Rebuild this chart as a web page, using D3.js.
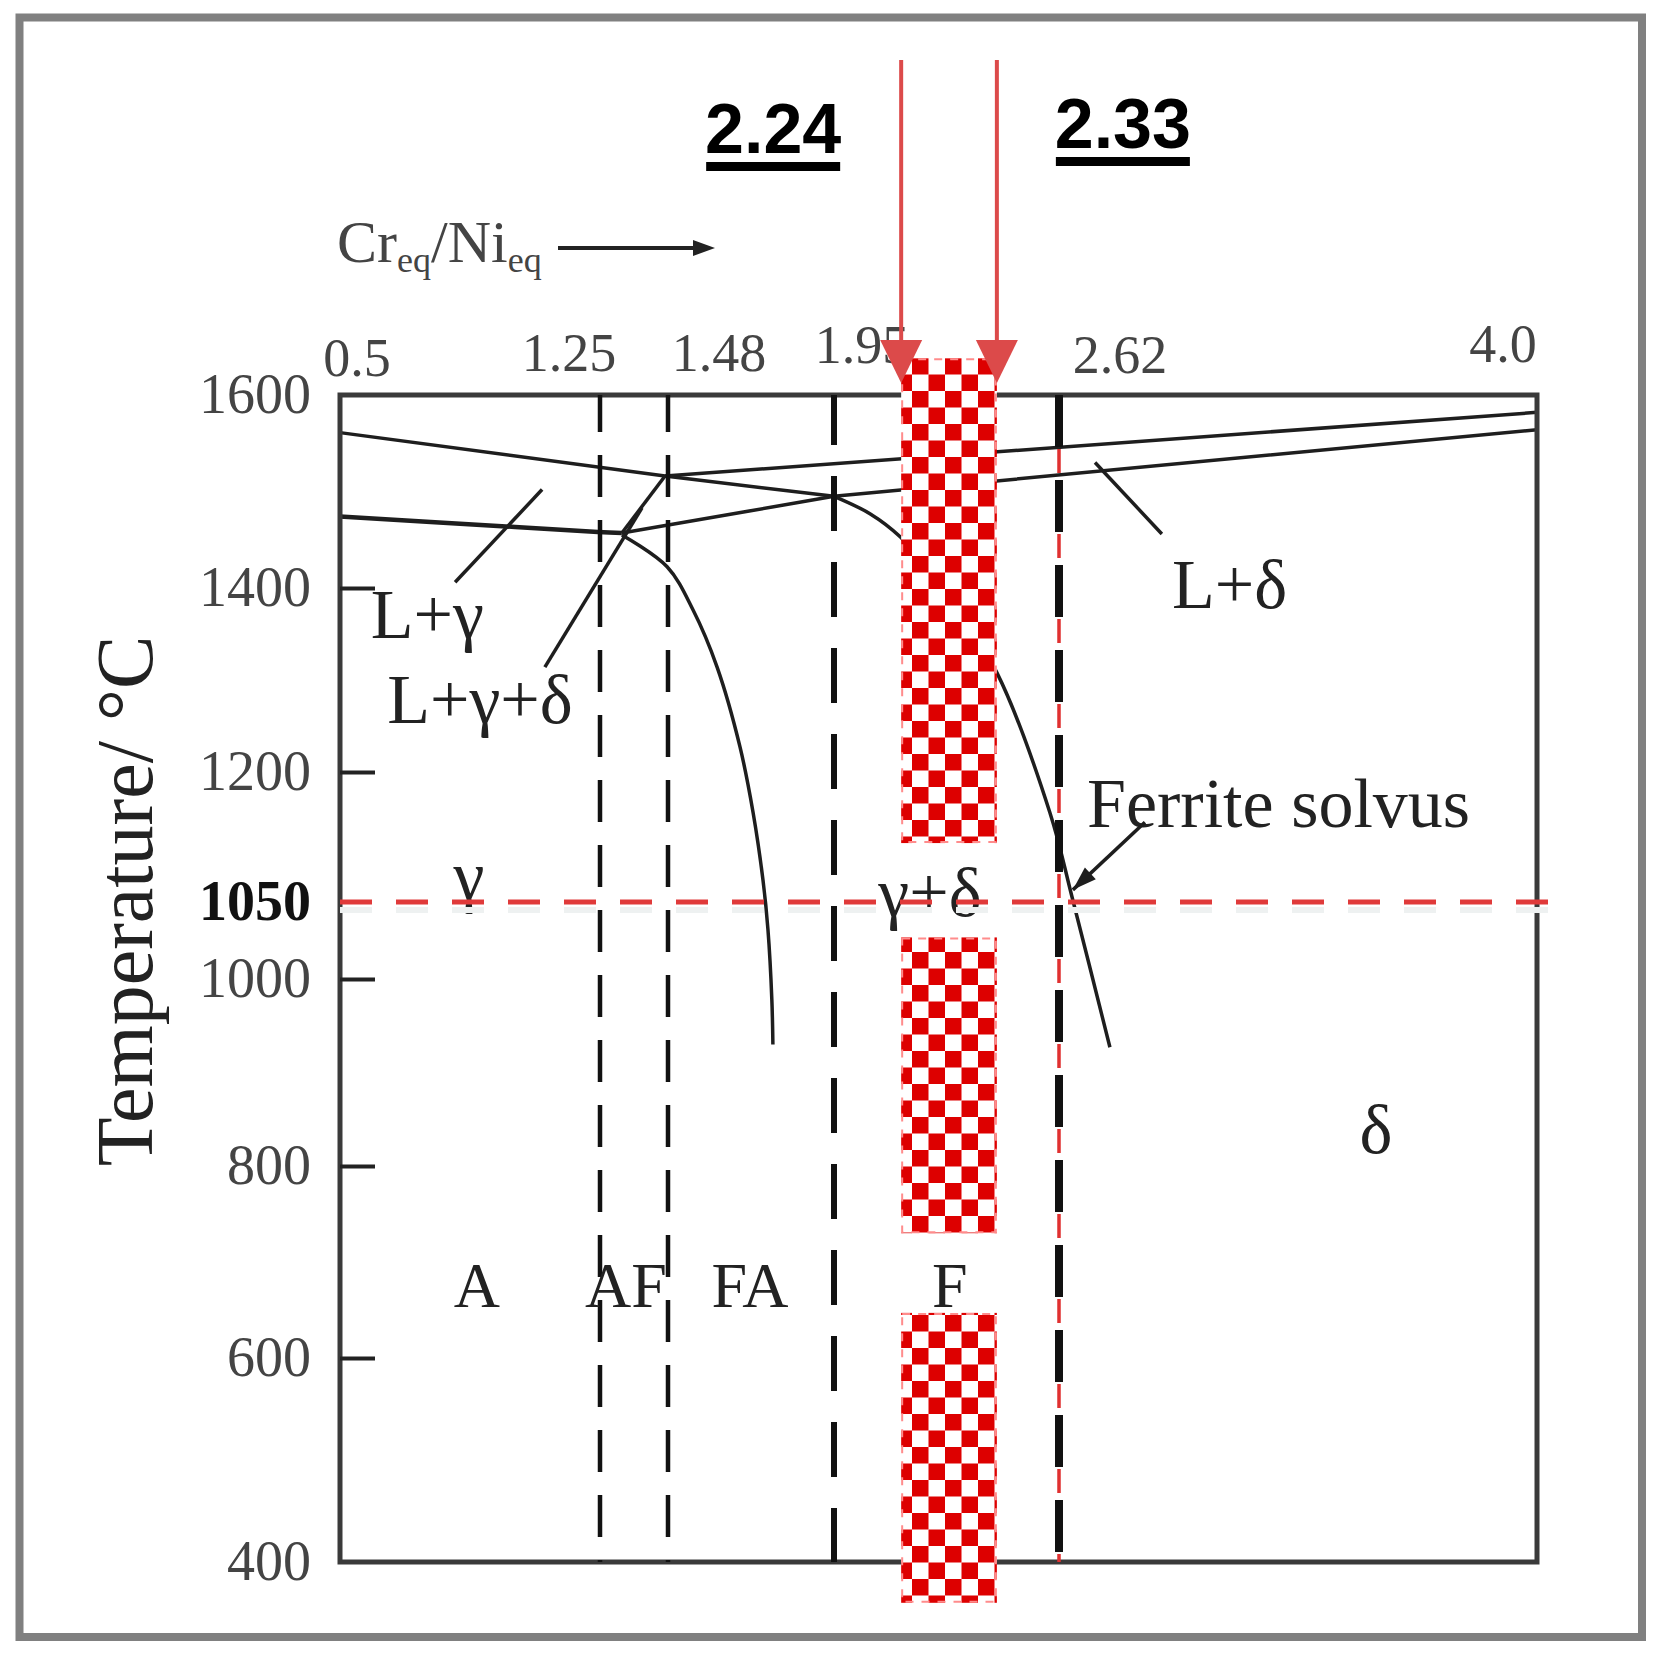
<!DOCTYPE html>
<html><head><meta charset="utf-8">
<script src="https://cdn.jsdelivr.net/npm/d3@7"></script>
<style>
html,body{margin:0;padding:0;background:#fff;}
svg{display:block;}
</style></head>
<body>
<svg id="chart" width="1662" height="1655"></svg>
<script>
// ------------------------- data -------------------------
const xTickValues = [0.5, 1.25, 1.48, 1.95, 2.62, 4.0];
const xTickLabels = ["0.5", "1.25", "1.48", "1.95", "2.62", "4.0"];
const modeBoundaries = [1.25, 1.48, 1.95, 2.62];
const yTickValues = [1600, 1400, 1200, 1050, 1000, 800, 600, 400];
const yTickLabels = ["1600", "1400", "1200", "1050", "1000", "800", "600", "400"];
const isothermT = 1050;

// phase boundaries: [Creq/Nieq, temperature °C]
const gammaLiquidus = [[0.5, 1561], [1.47, 1516], [1.95, 1495]];
const deltaLiquidus = [[1.47, 1516], [4.0, 1582]];
const gammaSolidus = [[0.5, 1474], [0.967, 1464], [1.244, 1458], [1.324, 1457]];
const threePhaseEdge = [[1.324, 1457], [1.47, 1516]];
const deltaSolidus = [[1.324, 1457], [1.95, 1495], [4.0, 1564]];
const gammaSolvus = [[1.324, 1455], [1.477, 1422], [1.551, 1376], [1.619, 1314], [1.684, 1227],
                     [1.721, 1153], [1.749, 1075], [1.763, 1032], [1.774, 978], [1.777, 930]];
const ferriteSolvus = [[1.95, 1495], [2.057, 1477], [2.147, 1453], [2.295, 1390], [2.435, 1308],
                       [2.593, 1153], [2.660, 1052], [2.767, 927]];

// leader lines [from, to]
const leaderLines = [
  [[0.832, 1406], [1.083, 1502]],   // L+γ
  [[1.091, 1314], [1.392, 1483]],   // L+γ+δ
  [[2.724, 1530], [2.917, 1456]]    // L+δ
];
const solvusPointer = [[2.868, 1142], [2.660, 1064]];

// region labels
const labelTexts = ["L+γ", "L+γ+δ", "L+δ", "Ferrite solvus", "γ", "γ+δ", "δ", "A", "AF", "FA", "F"];
const labelX = [0.589, 0.636, 2.946, 2.701, 0.872, 2.236, 3.535, 0.895, 1.338, 1.712, 2.295];
const labelT = [1346, 1253, 1378, 1137, 1054, 1041, 814, 653, 653, 653, 653];
const labelAnchor = ["start", "start", "start", "start", "middle", "middle", "middle", "middle", "middle", "middle", "middle"];

// highlighted ratio band and its segments (temperature spans)
const ratioBand = [2.15, 2.435];
const bandSpans = [[1638, 1118], [1027, 730], [647, 360]];
const bandLabels = ["2.24", "2.33"];

// ------------------------- layout -------------------------
const serif = "'Liberation Serif','Times New Roman',serif";
const svg = d3.select("#chart");

const x = d3.scaleLinear().domain(xTickValues).range([340, 600, 668, 834, 1059, 1537]);
const y = d3.scaleLinear().domain([400, 600, 800, 1000, 1050, 1200, 1400, 1600])
                          .range([1562, 1358, 1166, 979, 902, 772, 588, 395]);
const X0 = x(0.5), X1 = x(4.0), Y0 = y(1600), Y1 = y(400);

// checker pattern
const defs = svg.append("defs");
const pat = defs.append("pattern").attr("id", "checker")
  .attr("patternUnits", "userSpaceOnUse").attr("width", 33).attr("height", 33)
  .attr("patternTransform", "translate(912,358)");
pat.append("rect").attr("width", 33).attr("height", 33).attr("fill", "#ffffff");
pat.append("rect").attr("x", 0).attr("y", 0).attr("width", 16.5).attr("height", 16.5).attr("fill", "#dd0000");
pat.append("rect").attr("x", 16.5).attr("y", 16.5).attr("width", 16.5).attr("height", 16.5).attr("fill", "#dd0000");

// outer frame
svg.append("rect").attr("x", 19.5).attr("y", 17.5).attr("width", 1622.5).attr("height", 1619.5)
  .attr("fill", "none").attr("stroke", "#808080").attr("stroke-width", 8);

// phase boundary curves
const straight = d3.line().x(d => x(d[0])).y(d => y(d[1]));
const smooth = d3.line().x(d => x(d[0])).y(d => y(d[1])).curve(d3.curveCatmullRom.alpha(0.5));
const curves = [
  [gammaLiquidus, straight, 3.5], [deltaLiquidus, straight, 3.5],
  [gammaSolidus, smooth, 4.5], [threePhaseEdge, straight, 3.5],
  [deltaSolidus, straight, 3.5], [gammaSolvus, smooth, 3.5], [ferriteSolvus, smooth, 3.5]
];
const gCurves = svg.append("g").attr("fill", "none").attr("stroke", "#1e1e1e").attr("stroke-linejoin", "round");
curves.forEach(c => gCurves.append("path").attr("d", c[1](c[0])).attr("stroke-width", c[2]));

// leader lines
leaderLines.forEach(l => gCurves.append("path").attr("d", straight(l)).attr("stroke-width", 3.5));

// plot box
svg.append("rect").attr("x", X0).attr("y", Y0).attr("width", X1 - X0).attr("height", Y1 - Y0)
  .attr("fill", "none").attr("stroke", "#3a3a3a").attr("stroke-width", 5);

// y axis
const yAxis = d3.axisLeft(y).tickValues(yTickValues).tickFormat((d, i) => yTickLabels[i])
  .tickSizeInner(-35).tickSizeOuter(0).tickPadding(29);
const gy = svg.append("g").attr("transform", `translate(${X0},0)`).call(yAxis);
gy.select(".domain").remove();
gy.selectAll(".tick line").attr("stroke", "#222").attr("stroke-width", 4)
  .attr("display", d => (d === 1600 || d === 400 || d === isothermT) ? "none" : null);
gy.selectAll(".tick text").attr("font-family", serif).attr("font-size", 56)
  .attr("fill", d => d === isothermT ? "#111" : "#444")
  .attr("font-weight", d => d === isothermT ? "bold" : "normal");

// solidification mode boundaries
const boundaryStyle = [
  {w: 4.5, dash: "42 23", off: 5}, {w: 4.5, dash: "42 23", off: 5},
  {w: 6, dash: "55 31", off: 5}, {w: 8, dash: "52 33", off: 0}
];
modeBoundaries.forEach((v, i) => {
  const s = boundaryStyle[i];
  if (i === 3) {
    svg.append("line").attr("x1", x(v)).attr("x2", x(v)).attr("y1", Y0).attr("y2", Y1)
      .attr("stroke", "#e03030").attr("stroke-width", 3.5)
      .attr("stroke-dasharray", "24 9 0 52").attr("stroke-dashoffset", -54);
  }
  svg.append("line").attr("x1", x(v)).attr("x2", x(v)).attr("y1", Y0).attr("y2", Y1)
    .attr("stroke", "#111").attr("stroke-width", s.w)
    .attr("stroke-dasharray", s.dash).attr("stroke-dashoffset", s.off);
});

// region labels
svg.append("g").selectAll("text").data(labelTexts).join("text")
  .attr("x", (d, i) => x(labelX[i])).attr("y", (d, i) => y(labelT[i]))
  .attr("text-anchor", (d, i) => labelAnchor[i])
  .attr("font-family", serif).attr("font-size", (d, i) => i >= 7 ? 64 : 70)
  .attr("fill", "#222").text(d => d);

// ferrite solvus pointer
const p0 = [x(solvusPointer[0][0]), y(solvusPointer[0][1])];
const p1 = [x(solvusPointer[1][0]), y(solvusPointer[1][1])];
svg.append("line").attr("x1", p0[0]).attr("y1", p0[1]).attr("x2", p1[0]).attr("y2", p1[1])
  .attr("stroke", "#1e1e1e").attr("stroke-width", 3.5);
{
  const ang = Math.atan2(p1[1] - p0[1], p1[0] - p0[0]);
  const L = 24, W = 8;
  const bx = p1[0] - L * Math.cos(ang), by = p1[1] - L * Math.sin(ang);
  const nx = -Math.sin(ang), ny = Math.cos(ang);
  svg.append("polygon").attr("fill", "#1e1e1e")
    .attr("points", `${p1[0]},${p1[1]} ${bx + W * nx},${by + W * ny} ${bx - W * nx},${by - W * ny}`);
}

// checkered band
const bx0 = x(ratioBand[0]), bx1 = x(ratioBand[1]);
const gBand = svg.append("g");
gBand.selectAll("rect.cell").data(bandSpans).join("rect").attr("class", "cell")
  .attr("x", bx0).attr("width", bx1 - bx0)
  .attr("y", d => y(d[0])).attr("height", d => y(d[1]) - y(d[0]))
  .attr("fill", "url(#checker)");
gBand.selectAll("rect.edge").data(bandSpans).join("rect").attr("class", "edge")
  .attr("x", bx0 + 1).attr("width", bx1 - bx0 - 2)
  .attr("y", d => y(d[0]) + 1).attr("height", d => y(d[1]) - y(d[0]) - 2)
  .attr("fill", "none").attr("stroke", "#ff8c8c").attr("stroke-width", 2).attr("stroke-dasharray", "8 8");

// 1050 °C isotherm
svg.append("line").attr("x1", X0).attr("x2", X1 + 12).attr("y1", y(isothermT) + 8).attr("y2", y(isothermT) + 8)
  .attr("stroke", "#eef1f1").attr("stroke-width", 6).attr("stroke-dasharray", "32 24");
svg.append("line").attr("x1", X0).attr("x2", X1 + 12).attr("y1", y(isothermT)).attr("y2", y(isothermT))
  .attr("stroke", "#e03a3a").attr("stroke-width", 5).attr("stroke-dasharray", "32 24");

// top x tick labels (freely placed in the original)
const xLabelNudge = [[17, -19], [-31, -24], [51, -24], [28, -32], [61, -22], [-34, -33]];
svg.append("g").selectAll("text").data(xTickLabels).join("text")
  .attr("x", (d, i) => x(xTickValues[i]) + xLabelNudge[i][0])
  .attr("y", (d, i) => Y0 + xLabelNudge[i][1])
  .attr("text-anchor", "middle").attr("font-family", serif).attr("font-size", 54)
  .attr("fill", "#444").text(d => d);

// Creq/Nieq label
const ct = svg.append("text").attr("x", 337).attr("y", 262).attr("font-family", serif)
  .attr("font-size", 60).attr("fill", "#444");
ct.append("tspan").text("Cr");
ct.append("tspan").attr("font-size", 36).attr("dy", 10).text("eq");
ct.append("tspan").attr("dy", -10).text("/Ni");
ct.append("tspan").attr("font-size", 36).attr("dy", 10).text("eq");
svg.append("line").attr("x1", 558).attr("x2", 700).attr("y1", 248).attr("y2", 248)
  .attr("stroke", "#222").attr("stroke-width", 4);
svg.append("polygon").attr("points", "693,240 715,248 693,256").attr("fill", "#222");

// y title
svg.append("text").attr("transform", "translate(152,901) rotate(-90)")
  .attr("text-anchor", "middle").attr("font-family", serif).attr("font-size", 80)
  .attr("fill", "#222").text("Temperature/ °C");

// red arrows pointing to band edges
const arrowColor = "#dc4a4a";
ratioBand.forEach((v, i) => {
  const ax = x(v);
  svg.append("line").attr("x1", ax).attr("x2", ax).attr("y1", 60).attr("y2", Y0 - 50)
    .attr("stroke", arrowColor).attr("stroke-width", 4);
  svg.append("polygon").attr("fill", arrowColor)
    .attr("points", `${ax - 21},${Y0 - 55} ${ax + 21},${Y0 - 55} ${ax},${Y0 - 12}`);
  const tx = i === 0 ? ax - 128 : ax + 126;
  const ty = i === 0 ? 153 : 148;
  svg.append("text").attr("x", tx).attr("y", ty).attr("text-anchor", "middle")
    .attr("font-family", "'Liberation Sans',Arial,sans-serif").attr("font-weight", "bold")
    .attr("font-size", 70).attr("fill", "#000").text(bandLabels[i]);
  svg.append("rect").attr("x", tx - 67).attr("y", ty + 9).attr("width", 134).attr("height", 9).attr("fill", "#000");
});
</script>
</body></html>
